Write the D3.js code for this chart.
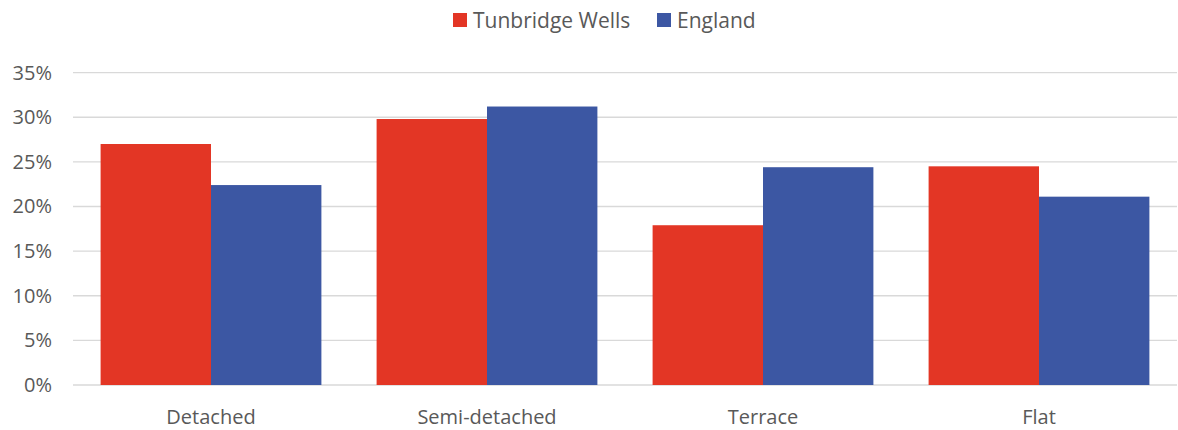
<!DOCTYPE html>
<html>
<head>
<meta charset="utf-8">
<script src="https://cdn.jsdelivr.net/npm/d3@7"></script>
<style>
  body { margin: 0; background: #fff; }
  svg text { font-family: "Open Sans", sans-serif; fill: #595959; }
</style>
</head>
<body>
<svg id="chart" width="1178" height="430"></svg>
<script>
// chart data
const categories = ["Detached", "Semi-detached", "Terrace", "Flat"];
const seriesNames = ["Tunbridge Wells", "England"];
const tunbridgeWells = [0.270, 0.298, 0.179, 0.245];
const england = [0.224, 0.312, 0.244, 0.211];
const yTicks = [0, 0.05, 0.10, 0.15, 0.20, 0.25, 0.30, 0.35];

const colors = ["#E33625", "#3C57A3"];

const svg = d3.select("#chart");
const margin = { top: 72.6, right: 1, bottom: 45, left: 73 };
const width = 1178, height = 430;

const x = d3.scaleBand()
    .domain(categories)
    .range([margin.left, width - margin.right])
    .paddingInner(0.2)
    .paddingOuter(0.1);

const xSub = d3.scaleBand()
    .domain(seriesNames)
    .range([0, x.bandwidth()]);

const y = d3.scaleLinear()
    .domain([0, 0.35])
    .range([height - margin.bottom, margin.top]);

// gridlines
svg.append("g")
    .selectAll("line")
    .data(yTicks)
    .join("line")
    .attr("x1", margin.left)
    .attr("x2", width - margin.right)
    .attr("y1", d => y(d))
    .attr("y2", d => y(d))
    .attr("stroke", "#d9d9d9")
    .attr("stroke-width", 1.3);

// y axis labels
const yAxis = svg.append("g")
    .attr("transform", `translate(${margin.left - 18},0)`)
    .call(d3.axisLeft(y).tickValues(yTicks).tickFormat(d3.format(".0%")).tickSize(0));
yAxis.select(".domain").remove();
yAxis.selectAll("text")
    .attr("font-size", "20px")
    .attr("fill", "#595959");

// x axis labels
const xAxis = svg.append("g")
    .attr("transform", `translate(0,${height - margin.bottom + 22})`)
    .call(d3.axisBottom(x).tickSize(0));
xAxis.select(".domain").remove();
xAxis.selectAll("text")
    .attr("font-size", "20px")
    .attr("fill", "#595959");

// bars
const rows = categories.map((c, i) => ({
    category: c,
    values: [
        { name: seriesNames[0], value: tunbridgeWells[i], color: colors[0] },
        { name: seriesNames[1], value: england[i], color: colors[1] }
    ]
}));

svg.append("g")
    .selectAll("g")
    .data(rows)
    .join("g")
    .attr("transform", d => `translate(${x(d.category)},0)`)
    .selectAll("rect")
    .data(d => d.values)
    .join("rect")
    .attr("x", d => xSub(d.name))
    .attr("width", xSub.bandwidth())
    .attr("y", d => y(d.value))
    .attr("height", d => y(0) - y(d.value))
    .attr("fill", d => d.color);

// legend
const legend = svg.append("g");
const legendX = [453, 657];
seriesNames.forEach((name, i) => {
    const g = legend.append("g").attr("transform", `translate(${legendX[i]},13)`);
    g.append("rect")
        .attr("width", 14)
        .attr("height", 14)
        .attr("fill", colors[i]);
    g.append("text")
        .attr("x", 20)
        .attr("y", 14.5)
        .attr("font-size", "21px")
        .text(name);
});
</script>
</body>
</html>
